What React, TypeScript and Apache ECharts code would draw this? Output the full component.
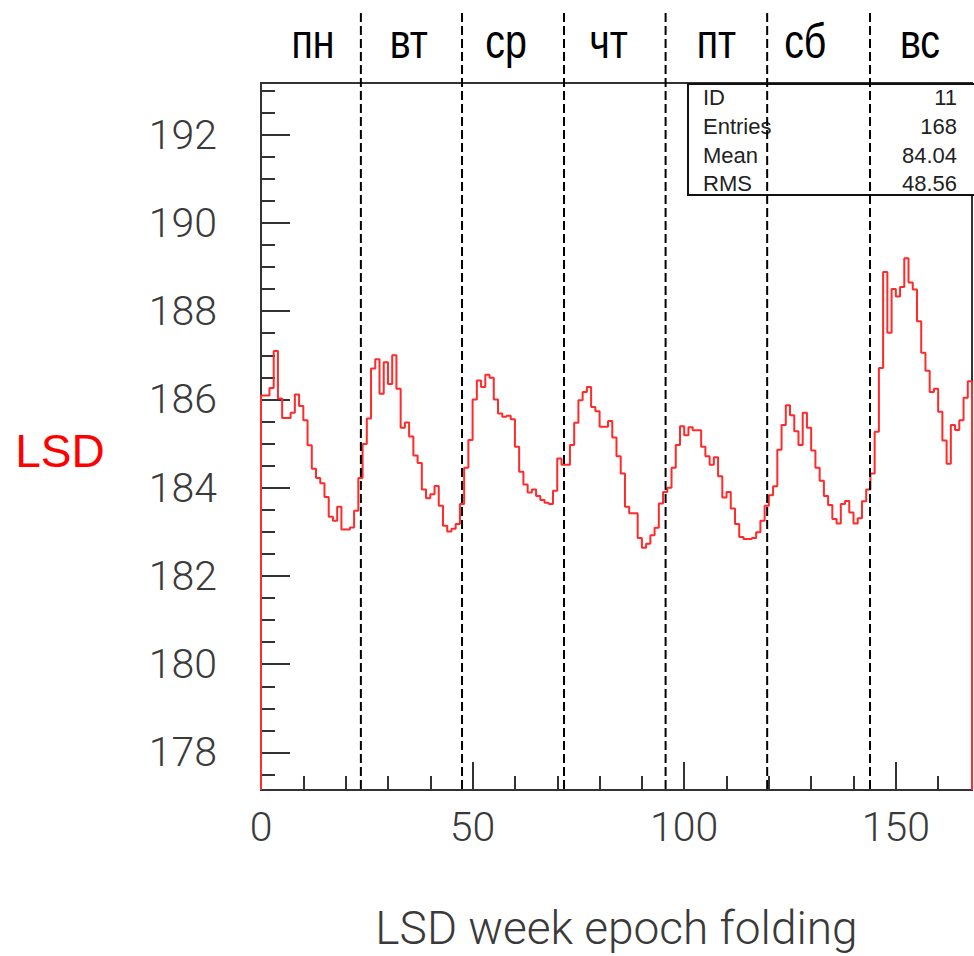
import React, { useEffect, useRef } from 'react';
import * as echarts from 'echarts';

// Hourly bins of the week (0..167), LSD counting rate
const lsdValues: number[] = [
  186.09, 186.09, 186.26, 187.10, 186.02, 185.58, 185.58, 185.70, 186.11, 185.85,
  185.53, 184.96, 184.43, 184.22, 184.10, 183.79, 183.34, 183.25, 183.57, 183.05,
  183.05, 183.10, 183.48, 184.22, 184.99, 185.57, 186.70, 186.91, 186.13, 186.84,
  186.35, 187.00, 186.24, 185.36, 185.48, 185.16, 184.73, 184.56, 183.96, 183.76,
  183.85, 184.04, 183.59, 183.14, 183.01, 183.07, 183.18, 183.63, 184.45, 185.08,
  186.00, 186.43, 186.28, 186.56, 186.49, 186.00, 185.68, 185.61, 185.63, 185.55,
  184.93, 184.36, 184.07, 183.89, 183.96, 183.81, 183.72, 183.66, 183.63, 183.93,
  184.66, 184.52, 184.52, 184.97, 185.47, 185.98, 186.17, 186.28, 185.83, 185.73,
  185.38, 185.38, 185.51, 185.14, 184.71, 184.32, 183.57, 183.42, 183.42, 182.86,
  182.64, 182.73, 182.92, 183.09, 183.64, 183.90, 184.00, 184.45, 184.97, 185.39,
  185.19, 185.37, 185.30, 185.30, 184.93, 184.71, 184.52, 184.69, 184.26, 183.78,
  183.90, 183.53, 183.18, 182.88, 182.84, 182.84, 182.86, 182.99, 183.25, 183.59,
  183.83, 184.03, 184.86, 185.42, 185.87, 185.64, 185.28, 184.97, 185.70, 185.36,
  184.84, 184.45, 184.16, 183.81, 183.61, 183.29, 183.19, 183.63, 183.70, 183.44,
  183.19, 183.31, 183.69, 183.96, 184.32, 185.27, 186.71, 188.89, 187.51, 188.50,
  188.33, 188.55, 189.20, 188.65, 188.49, 187.77, 187.06, 186.65, 186.17, 186.24,
  185.72, 185.07, 184.54, 185.42, 185.31, 185.53, 186.04, 186.41,
];

const xMin = 0;
const xMax = 168;
const yMin = 177.15;
const yMax = 193.17;

const xMajorTicks = [0, 50, 100, 150];
const xMinorTicks = [10, 20, 30, 40, 60, 70, 80, 90, 110, 120, 130, 140, 160];
const yMajorTicks = [178, 180, 182, 184, 186, 188, 190, 192];
const yMinorTicks = [
  177.5, 178.5, 179, 179.5, 180.5, 181, 181.5, 182.5, 183, 183.5, 184.5, 185, 185.5,
  186.5, 187, 187.5, 188.5, 189, 189.5, 190.5, 191, 191.5, 192.5, 193,
];

const dayNames = ['пн', 'вт', 'ср', 'чт', 'пт', 'сб', 'вс'];
const dayLabelPos = [12.3, 34.9, 57.9, 82.1, 107.6, 128.6, 155.7];
// hand-drawn day separators (slightly left of exact 24h multiples)
const dayBoundaries = [23.6, 47.5, 71.6, 95.6, 119.6, 143.9];

const statsLabels = ['ID', 'Entries', 'Mean', 'RMS'];
const statsValues = ['11', '168', '84.04', '48.56'];

const xTitle = 'LSD week epoch folding';
const yTitle = 'LSD';

const GRID = { left: 261, top: 83, width: 711, height: 710 };
const AXIS_COLOR = '#333';
const THIN_FONT = 'Roboto, "Liberation Sans", sans-serif';

export default function App() {
  const ref = useRef<HTMLDivElement>(null);

  useEffect(() => {
    if (!ref.current) return;
    const chart = echarts.init(ref.current, null, { renderer: 'svg' });

    const histData: number[][] = [[xMin, yMin]];
    lsdValues.forEach((v, i) => histData.push([i, v]));
    histData.push([xMax, lsdValues[lsdValues.length - 1]]);
    histData.push([xMax, yMin]);

    const tickStyle = { color: AXIS_COLOR, width: 2 };

    chart.setOption({
      animation: false,
      backgroundColor: '#fff',
      grid: {
        left: GRID.left,
        top: GRID.top,
        width: GRID.width,
        height: GRID.height,
        show: true,
        borderColor: AXIS_COLOR,
        borderWidth: 2,
        backgroundColor: 'transparent',
      },
      xAxis: [
        {
          type: 'value',
          min: xMin,
          max: xMax,
          position: 'bottom',
          axisLine: { show: true, lineStyle: tickStyle },
          axisTick: { show: true, inside: true, length: 28, customValues: xMajorTicks, lineStyle: tickStyle },
          axisLabel: {
            customValues: xMajorTicks,
            fontSize: 41,
            fontFamily: THIN_FONT,
            fontWeight: 300,
            color: '#3a3a3a',
            margin: 16,
          },
          splitLine: { show: false },
          name: xTitle,
          nameLocation: 'middle',
          nameGap: 115,
          nameTextStyle: { fontSize: 46, fontFamily: THIN_FONT, fontWeight: 300, color: '#3a3a3a' },
        },
        {
          type: 'value',
          min: xMin,
          max: xMax,
          position: 'bottom',
          axisLine: { show: false },
          axisTick: { show: true, inside: true, length: 14, customValues: xMinorTicks, lineStyle: tickStyle },
          axisLabel: { show: false },
          splitLine: { show: false },
        },
      ],
      yAxis: [
        {
          type: 'value',
          min: yMin,
          max: yMax,
          position: 'left',
          axisLine: { show: true, lineStyle: tickStyle },
          axisTick: { show: true, inside: true, length: 29, customValues: yMajorTicks, lineStyle: tickStyle },
          axisLabel: {
            customValues: yMajorTicks,
            fontSize: 41,
            fontFamily: THIN_FONT,
            fontWeight: 300,
            color: '#3a3a3a',
            margin: 44,
          },
          splitLine: { show: false },
        },
        {
          type: 'value',
          min: yMin,
          max: yMax,
          position: 'left',
          axisLine: { show: false },
          axisTick: { show: true, inside: true, length: 14, customValues: yMinorTicks, lineStyle: tickStyle },
          axisLabel: { show: false },
          splitLine: { show: false },
        },
      ],
      series: [
        {
          type: 'line',
          xAxisIndex: 0,
          yAxisIndex: 0,
          data: histData,
          step: 'end',
          showSymbol: false,
          symbol: 'none',
          clip: true,
          lineStyle: { color: '#ff2a2a', width: 2 },
          z: 5,
        },
      ],
    });

    const px = (v: number) => chart.convertToPixel({ xAxisIndex: 0 }, v) as number;
    const bottomY = GRID.top + GRID.height;

    const graphics: any[] = [];

    // statistics box
    const boxX = 688;
    const boxY = 84;
    const rowY = [97, 126, 155, 183];
    graphics.push({
      type: 'rect',
      shape: { x: boxX, y: boxY, width: 320, height: 111 },
      style: { fill: '#fff', stroke: '#111', lineWidth: 2 },
      z: 10,
    });
    statsLabels.forEach((t, i) => {
      graphics.push({
        type: 'text',
        x: 703,
        y: rowY[i],
        style: {
          text: t,
          font: '22px "Liberation Sans", Arial, sans-serif',
          fill: '#222',
          align: 'left',
          textAlign: 'left',
          verticalAlign: 'middle',
          textVerticalAlign: 'middle',
        },
        z: 11,
      });
      graphics.push({
        type: 'text',
        x: 957,
        y: rowY[i],
        style: {
          text: statsValues[i],
          font: '22px "Liberation Sans", Arial, sans-serif',
          fill: '#222',
          align: 'right',
          textAlign: 'right',
          verticalAlign: 'middle',
          textVerticalAlign: 'middle',
        },
        z: 11,
      });
    });

    // day separators
    dayBoundaries.forEach((b) => {
      const x = px(b);
      graphics.push({
        type: 'line',
        shape: { x1: x, y1: 13, x2: x, y2: bottomY },
        style: { stroke: '#000', lineWidth: 2, lineDash: [9, 4] },
        z: 20,
      });
    });

    // day names
    dayNames.forEach((d, i) => {
      graphics.push({
        type: 'text',
        x: px(dayLabelPos[i]),
        y: 41,
        scaleX: 0.82,
        style: {
          text: d,
          font: '48px "Liberation Sans", Arial, sans-serif',
          fill: '#000',
          align: 'center',
          textAlign: 'center',
          verticalAlign: 'middle',
          textVerticalAlign: 'middle',
        },
        z: 20,
      });
    });

    // y title
    graphics.push({
      type: 'text',
      x: 60,
      y: 451,
      style: {
        text: yTitle,
        font: '46px "Liberation Sans", Arial, sans-serif',
        fill: '#ff0000',
        align: 'center',
        textAlign: 'center',
        verticalAlign: 'middle',
        textVerticalAlign: 'middle',
      },
      z: 20,
    });

    chart.setOption({ graphic: graphics });

    return () => chart.dispose();
  }, []);

  return (
    <div
      ref={ref}
      style={{ position: 'absolute', left: 0, top: 0, width: 974, height: 956, background: '#fff' }}
    />
  );
}
